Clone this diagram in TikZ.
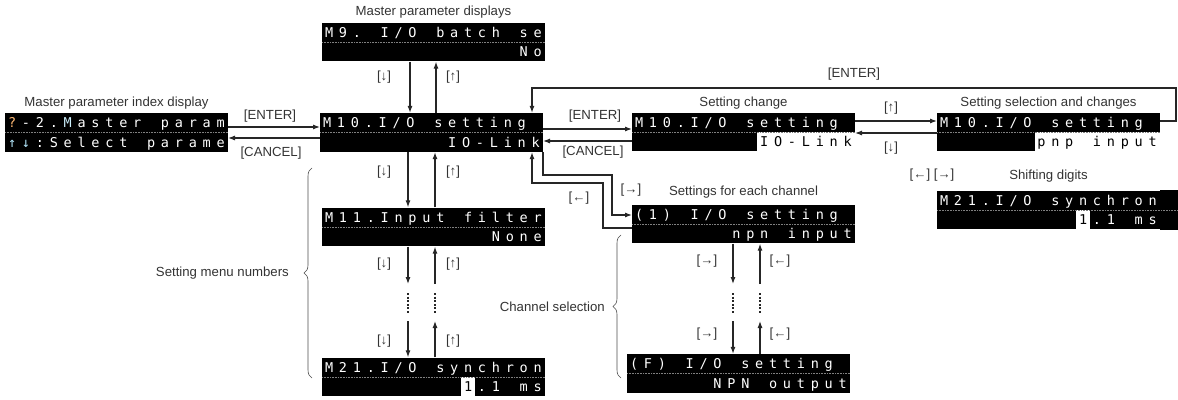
\documentclass[tikz,border=0pt]{standalone}
\usepackage{fontspec}
\setmainfont{Liberation Sans}
\newfontfamily\lcdfamily{DejaVu Sans Mono}
\usetikzlibrary{arrows.meta,positioning,decorations.pathreplacing}

% one character cell of the display
\newlength\cw
\setlength\cw{13.9pt}
\makeatletter
\newcommand\lcdrow[1]{\rule[-4.8pt]{0pt}{19.4pt}\@tfor\lcd@c:=#1\do{\makebox[\cw]{\lcd@c}}}
\makeatother
\newcommand\hlrow[1]{{\setlength\fboxsep{0pt}\colorbox{white}{\color{black}\lcdrow{#1}}}}

\tikzset{
  lcd/.style={fill=black, text=white, inner sep=0pt, anchor=west,
    text width=222.6pt, align=left,
    font=\lcdfamily\fontsize{13.5}{19.5}\selectfont},
  sep/.style={gray, line width=0.4pt, dash pattern=on 0.8pt off 0.8pt},
  lbl/.style={inner sep=1pt, font=\fontsize{13.2}{15}\selectfont, text=black!80},
  arr/.style={-{Latex[length=7pt,width=5pt]}, line width=1.1pt, black!85},
  dots/.style={line width=1.1pt, black!85, dash pattern=on 2pt off 1.6pt},
  brace/.style={decorate, decoration={brace, amplitude=8pt}, line width=0.6pt, gray!60!black}
}

\begin{document}
\begin{tikzpicture}[x=1pt, y=-1pt]
  \useasboundingbox (0,0) rectangle (1178,399);

  % displays
  \node[lcd] (a) at (5,132.5)
    {\lcdrow{{\color{orange!55!white}?}-2.{\color{cyan!20!white}M}aster~param}\\
     \lcdrow{{\color{cyan!30!white}↑}{\color{cyan!30!white}↓}:Select~parame}};
  \node[lcd] (m9) at (322,42)
    {\lcdrow{M9.~I/O~batch~se}\\\lcdrow{~~~~~~~~~~~~~~No}};
  \node[lcd] (m10) at (320,132.5)
    {\lcdrow{M10.I/O~setting~}\\\lcdrow{~~~~~~~~~IO-Link}};
  \node[lcd] (m11) at (322,227)
    {\lcdrow{M11.Input~filter}\\\lcdrow{~~~~~~~~~~~~None}};
  \node[lcd] (m21) at (322,377)
    {\lcdrow{M21.I/O~synchron}\\\lcdrow{~~~~~~~~~~}\hlrow{1}\lcdrow{.1~ms}};
  \node[lcd] (b) at (632,132)
    {\lcdrow{M10.I/O~setting~}\\\lcdrow{~~~~~~~~~}\hlrow{IO-Link}};
  \node[lcd] (c) at (937,132)
    {\lcdrow{M10.I/O~setting~}\\\lcdrow{~~~~~~~}\hlrow{pnp~input}};
  \node[lcd] (d) at (937,210)
    {\lcdrow{M21.I/O~synchron}\\\lcdrow{~~~~~~~~~~}\hlrow{1}\lcdrow{.1~ms}};
  \fill (d.north east) rectangle (d.south east -| 1178,0);
  \node[lcd] (e) at (632,224)
    {\lcdrow{(1)~I/O~setting~}\\\lcdrow{~~~~~~~npn~input}};
  \node[lcd] (f) at (627,373.5)
    {\lcdrow{(F)~I/O~setting~}\\\lcdrow{~~~~~~NPN~output}};
  \foreach \n in {a,m9,m10,m11,m21,b,c,e,f}
    \draw[sep] (\n.west) -- (\n.east);
  \draw[sep] (d.west) -- (d.east -| 1178,0);

  % titles
  \node[lbl, above=2pt of a] (ta) {Master parameter index display};
  \node[lbl, above=3pt of m9] (tm9) {Master parameter displays};
  \node[lbl, above=2pt of b] (tb) {Setting change};
  \node[lbl, above=2pt of c] (tc) {Setting selection and changes};
  \node[lbl, above=7pt of d] (td) {Shifting digits};
  \node[lbl, above=5pt of e] (te) {Settings for each channel};
  \node[lbl] (td2) at (932,175) {[←] [→]};

  % index display <-> M10
  \draw[arr] (a.east |- 0,127) -- (m10.west |- 0,127);
  \draw[arr] (m10.west |- 0,138) -- (a.east |- 0,138);
  \node[lbl] (l1) at (270,116) {[ENTER]};
  \node[lbl] (l2) at (271,153) {[CANCEL]};

  % M9 <-> M10 <-> M11
  \draw[arr] (m9.south -| 410,0) -- (m10.north -| 410,0);
  \draw[arr] (m10.north -| 436,0) -- (m9.south -| 436,0);
  \node[lbl] (l3) at (384,77) {[↓]};
  \node[lbl] (l4) at (453,77) {[↑]};
  \draw[arr] (m10.south -| 408,0) -- (m11.north -| 408,0);
  \draw[arr] (m11.north -| 435,0) -- (m10.south -| 435,0);
  \node[lbl] (l5) at (384,172) {[↓]};
  \node[lbl] (l6) at (453,172) {[↑]};

  % skipped menus and channels
  \foreach \x/\n in {408/ld, 435/lu, 733/rd, 760/ru}{
    \coordinate (\n1) at (\x,284);
    \coordinate (\n2) at (\x,321);
    \draw[dots] (\x,293) -- (\x,313);
  }
  \draw[arr] (m11.south -| ld1) -- (ld1);
  \draw[arr] (ld2) -- (m21.north -| ld2);
  \draw[arr] (m21.north -| lu2) -- (lu2);
  \draw[arr] (lu1) -- (m11.south -| lu1);
  \node[lbl] (l7) at (384,264) {[↓]};
  \node[lbl] (l8) at (453,264) {[↑]};
  \node[lbl] (l9) at (384,341) {[↓]};
  \node[lbl] (l10) at (453,341) {[↑]};
  \draw[arr] (e.south -| rd1) -- (rd1);
  \draw[arr] (rd2) -- (f.north -| rd2);
  \draw[arr] (f.north -| ru2) -- (ru2);
  \draw[arr] (ru1) -- (e.south -| ru1);
  \node[lbl] (l11) at (707,261) {[→]};
  \node[lbl] (l12) at (780,261) {[←]};
  \node[lbl] (l13) at (707,334) {[→]};
  \node[lbl] (l14) at (780,334) {[←]};

  % M10 <-> setting change <-> selection
  \draw[arr] (m10.east |- 0,129) -- (b.west |- 0,129);
  \draw[arr] (b.west |- 0,141) -- (m10.east |- 0,141);
  \node[lbl] (l15) at (595,116) {[ENTER]};
  \node[lbl] (l16) at (593,152) {[CANCEL]};
  \draw[arr] (b.east |- 0,121) -- (c.west |- 0,121);
  \draw[arr] (c.west |- 0,133) -- (b.east |- 0,133);
  \node[lbl] (l17) at (891,108) {[↑]};
  \node[lbl] (l18) at (891,148) {[↓]};
  \coordinate (turn) at (1176,88);
  \draw[arr] (c.east |- 0,121) -| (turn) -| (m10.north -| 532,0);
  \node[lbl] (l19) at (854,74) {[ENTER]};

  % M10 <-> channel settings
  \coordinate (k1) at (612,175);
  \coordinate (k2) at (603,183);
  \draw[arr] (m10.south east) |- (k1) |- (e.west |- 0,215);
  \draw[arr] (e.west |- 0,228) -| (k2) -| (m10.south -| 532,0);
  \node[lbl] (l20) at (631,190) {[→]};
  \node[lbl] (l21) at (579,198) {[←]};

  % braces
  \draw[brace] (312,378) -- (312,168);
  \node[lbl, anchor=east] (bm) at (290,273) {Setting menu numbers};
  \draw[brace] (621,378) -- (621,235);
  \node[lbl, anchor=east] (bc) at (606,307) {Channel selection};
\end{tikzpicture}
\end{document}
